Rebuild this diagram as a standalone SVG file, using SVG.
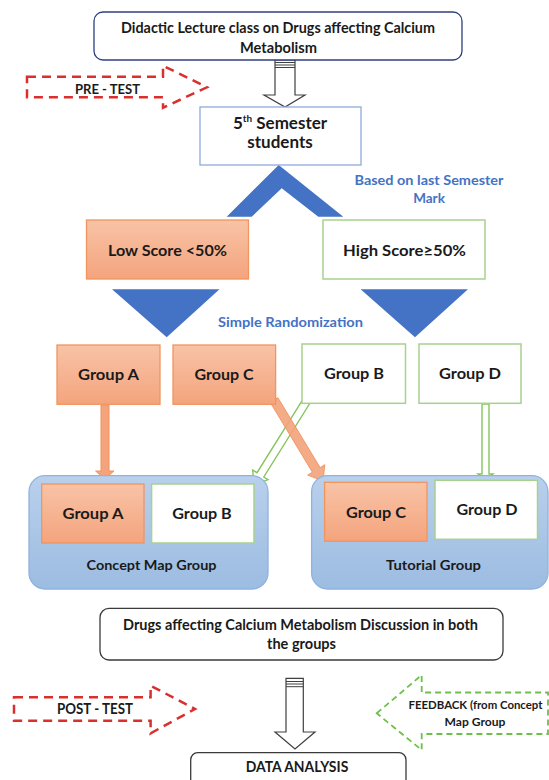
<svg xmlns="http://www.w3.org/2000/svg" width="549" height="780" viewBox="0 0 549 780">
<defs>
<linearGradient id="og" x1="0" y1="0" x2="0" y2="1"><stop offset="0" stop-color="#f8c3a6"/><stop offset="1" stop-color="#f4a47d"/></linearGradient>
<linearGradient id="bg" x1="0" y1="0" x2="0" y2="1"><stop offset="0" stop-color="#b9d0ec"/><stop offset="1" stop-color="#9cbce1"/></linearGradient>
<style>
text{font-family:Lato,"Liberation Sans",sans-serif;font-weight:bold;fill:#1a1a1a;text-anchor:middle}
.blue{fill:#4472c4}
.orange{fill:url(#og);stroke:#f0955f;stroke-width:1.3}
.green{fill:#fff;stroke:#a9d18e;stroke-width:1.5}
.cont{fill:url(#bg);stroke:#8fb2df;stroke-width:1.3}
.round{fill:#fff;stroke:#3a3a3a;stroke-width:1.3}
.blk{fill:#fff;stroke:#404040;stroke-width:1.2}
.tri{fill:#4472c4}
.red{fill:#fff;stroke:#d9302e;stroke-width:2.5;stroke-dasharray:9 6}
.gd{fill:none;stroke:#6cc04a;stroke-width:1.8;stroke-dasharray:6 4}
.oa{fill:#f4a47d;stroke:#f0915a;stroke-width:1}
.ga{fill:#fff;stroke:#86c55e;stroke-width:1.4}
</style>
</defs>

<g id="connectors">
<polygon class="blk" points="275,60 295,60 295,95 305,95 285,107 264,95 275,95"/>
<line x1="275" y1="62.5" x2="295" y2="62.5" stroke="#404040" stroke-width="1"/>
<line x1="275" y1="65" x2="295" y2="65" stroke="#404040" stroke-width="1"/>
<line x1="275" y1="67.5" x2="295" y2="67.5" stroke="#404040" stroke-width="1"/>
<polygon class="tri" points="278.7,165 343.3,216.7 318.3,216.7 281.7,188.3 251.7,216.7 226.7,216.7"/>
<polygon class="tri" points="112,289.3 219.5,289.3 166.7,337.3"/>
<polygon class="tri" points="360.6,289.3 468,289.3 415,337.3"/>
<polygon class="oa" points="101,405 109,405 109,471 113.8,471 105,479.3 95.6,471 101,471"/>
<polygon class="ga" points="482,404 489,404 489,474 493,474 485.5,480 478,474 482,474"/>
<polygon class="ga" points="302.6,399.9 257,472.7 252.7,470 254,485 268,479.6 263.8,477 309.4,404.1"/>
<polygon class="oa" opacity="0.92" points="270.2,402.3 312.4,472.2 307.7,475.1 323,481 324.8,464.7 320.1,467.6 277.9,397.7"/>
<polygon class="blk" points="286,678.3 303.3,678.3 303.3,732 315,732 295,749 275,732 286,732"/>
<line x1="286" y1="681.5" x2="303.3" y2="681.5" stroke="#404040" stroke-width="1"/>
<line x1="286" y1="684" x2="303.3" y2="684" stroke="#404040" stroke-width="1"/>
<line x1="286" y1="686.7" x2="303.3" y2="686.7" stroke="#404040" stroke-width="1"/>
</g>

<g id="top">
<rect class="round" x="94" y="12" width="368" height="48" rx="9" style="stroke:#2e3f7f"/>
<text x="278" y="33" font-size="15" textLength="314" lengthAdjust="spacingAndGlyphs">Didactic Lecture class on Drugs affecting Calcium</text>
<text x="278.5" y="52.7" font-size="15" textLength="77" lengthAdjust="spacingAndGlyphs">Metabolism</text>
</g>

<g id="pretest">
<polygon class="red" points="27,76.7 163,76.7 163,65.7 207,87.3 163,107.7 163,97.3 27,97.3"/>
<text x="107.5" y="93.5" font-size="14" textLength="65" lengthAdjust="spacingAndGlyphs">PRE - TEST</text>
</g>

<g id="students">
<rect x="200" y="107" width="161" height="58" fill="#fff" stroke="#8faadc" stroke-width="1.3"/>
<text x="280" y="128.5" font-size="17">5<tspan font-size="10" dy="-7">th</tspan><tspan dy="7"> Semester</tspan></text>
<text x="280" y="147.5" font-size="17">students</text>
</g>

<g id="label-based">
<text class="blue" x="429" y="185" font-size="13.5" textLength="149" lengthAdjust="spacingAndGlyphs">Based on last Semester</text>
<text class="blue" x="429" y="203.3" font-size="13.5">Mark</text>
</g>

<g id="low">
<rect class="orange" x="86.5" y="220" width="162" height="59"/>
<text x="167.5" y="256" font-size="16" textLength="119" lengthAdjust="spacingAndGlyphs">Low Score &lt;50%</text>
</g>

<g id="high">
<rect class="green" x="323" y="220" width="162" height="59"/>
<text x="404.5" y="256" font-size="16" textLength="123" lengthAdjust="spacingAndGlyphs">High Score≥50%</text>
</g>

<g id="label-random">
<text class="blue" x="290.5" y="327" font-size="13.5" textLength="145" lengthAdjust="spacingAndGlyphs">Simple Randomization</text>
</g>

<g id="groupA">
<rect class="orange" x="57" y="345" width="103" height="59.3"/>
<text x="108.5" y="379.5" font-size="15.5" textLength="61" lengthAdjust="spacingAndGlyphs">Group A</text>
</g>
<g id="groupC">
<rect class="orange" x="173" y="345" width="102.6" height="59.3"/>
<text x="224" y="379.5" font-size="15.5" textLength="59" lengthAdjust="spacingAndGlyphs">Group C</text>
</g>
<g id="groupB">
<rect class="green" x="302" y="344" width="103.5" height="59.3"/>
<text x="354" y="378.5" font-size="15.5" textLength="60" lengthAdjust="spacingAndGlyphs">Group B</text>
</g>
<g id="groupD">
<rect class="green" x="419" y="344" width="102" height="59.3"/>
<text x="470" y="378.5" font-size="15.5" textLength="62" lengthAdjust="spacingAndGlyphs">Group D</text>
</g>

<g id="concept">
<rect class="cont" x="29" y="475.7" width="239" height="113.3" rx="16"/>
<rect class="orange" x="41.7" y="484" width="102.3" height="59"/>
<text x="93" y="519" font-size="15.5" textLength="61" lengthAdjust="spacingAndGlyphs">Group A</text>
<rect class="green" x="151.6" y="484" width="102.4" height="59"/>
<text x="202" y="519" font-size="15.5" textLength="59.5" lengthAdjust="spacingAndGlyphs">Group B</text>
<text x="151.5" y="570" font-size="14" textLength="130" lengthAdjust="spacingAndGlyphs">Concept Map Group</text>
</g>

<g id="tutorial">
<rect class="cont" x="311.6" y="475.7" width="236.4" height="113.3" rx="16"/>
<rect class="orange" x="324.6" y="482.3" width="102.4" height="59"/>
<text x="376" y="518" font-size="15.5" textLength="60" lengthAdjust="spacingAndGlyphs">Group C</text>
<rect class="green" x="435" y="480.3" width="102.5" height="59"/>
<text x="487" y="515" font-size="15.5" textLength="61" lengthAdjust="spacingAndGlyphs">Group D</text>
<text x="433.5" y="570" font-size="14" textLength="95" lengthAdjust="spacingAndGlyphs">Tutorial Group</text>
</g>

<g id="discussion">
<rect class="round" x="100" y="608.3" width="403" height="51.7" rx="9"/>
<text x="300.5" y="630" font-size="14.5" textLength="355" lengthAdjust="spacingAndGlyphs">Drugs affecting Calcium Metabolism Discussion in both</text>
<text x="301.5" y="649" font-size="14.5" textLength="69" lengthAdjust="spacingAndGlyphs">the groups</text>
</g>

<g id="posttest">
<polygon class="red" points="14,697.3 150.6,697.3 150.6,685.7 195,709 150.6,733.3 150.6,720.7 14,720.7"/>
<text x="95" y="714" font-size="14.5" textLength="76" lengthAdjust="spacingAndGlyphs">POST - TEST</text>
</g>

<g id="feedback">
<polygon class="gd" points="376.7,713.3 421.7,675 421.7,692.5 548,692.5 548,734 421.7,734 421.7,750"/>
<text x="475.5" y="708.5" font-size="11" textLength="134" lengthAdjust="spacingAndGlyphs">FEEDBACK (from Concept</text>
<text x="475" y="725.5" font-size="11.5" textLength="61" lengthAdjust="spacingAndGlyphs">Map Group</text>
</g>

<g id="data">
<rect class="round" x="190.7" y="752.7" width="215.3" height="40" rx="7"/>
<text x="297" y="772" font-size="15" textLength="102.6" lengthAdjust="spacingAndGlyphs">DATA ANALYSIS</text>
</g>
</svg>
